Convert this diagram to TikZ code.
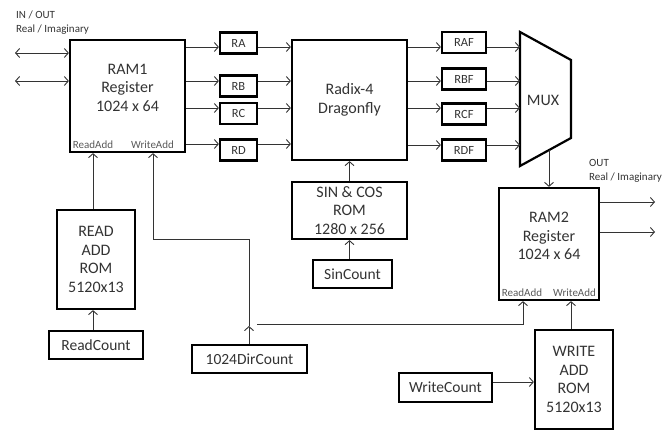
\documentclass[tikz,border=0pt]{standalone}
\usepackage{fontspec}
\setmainfont{Carlito}
\usetikzlibrary{arrows.meta}
\definecolor{txt}{HTML}{333333}
\definecolor{ln}{HTML}{333333}
\begin{document}
\begin{tikzpicture}[x=1pt,y=-1pt,
  box/.style={draw=black,line width=2.2pt,inner sep=0pt,text=txt,align=center},
  big/.style={font=\fontsize{16}{18.5}\selectfont},
  small/.style={font=\fontsize{12.5}{14}\selectfont},
  tiny/.style={font=\fontsize{11}{12}\selectfont,text=black!65},
  lbl/.style={font=\fontsize{11}{12}\selectfont,text=txt,anchor=west,inner sep=0pt},
  arr/.style={draw=ln,line width=0.9pt,-{Straight Barb[length=4pt,width=9pt,line width=0.9pt]}},
  darr/.style={draw=ln,line width=0.9pt,{Straight Barb[length=4pt,width=9pt,line width=0.9pt]}-{Straight Barb[length=4pt,width=9pt,line width=0.9pt]}},
  ln/.style={draw=ln,line width=0.9pt}]
\useasboundingbox (0,0) rectangle (663,430);

% RAM1
\node[box,minimum width=115pt,minimum height=112pt] (ram1) at (127.5,96) {};
\node[big,text=txt,align=center] (ram1t) at (127.5,87.5) {RAM1\\Register\\1024 x 64};
\node[tiny] (ram1r) at (93,145) {ReadAdd};
\node[tiny] (ram1w) at (152.5,145) {WriteAdd};

% registers
\node[box,small,minimum width=37pt,minimum height=21pt] (ra) at (238.5,43) {RA};
\node[box,small,minimum width=37pt,minimum height=21pt] (rb) at (238.5,86) {RB};
\node[box,small,minimum width=37pt,minimum height=21pt] (rc) at (238.5,113.5) {RC};
\node[box,small,minimum width=37pt,minimum height=21pt] (rd) at (238.5,150) {RD};

% Radix
\node[box,big,minimum width=115pt,minimum height=120pt] (radix) at (349.5,100) {Radix-4\\Dragonfly};

\node[box,small,minimum width=44pt,minimum height=21pt] (raf) at (464,42.5) {RAF};
\node[box,small,minimum width=44pt,minimum height=21pt] (rbf) at (464,79) {RBF};
\node[box,small,minimum width=44pt,minimum height=21pt] (rcf) at (464,114) {RCF};
\node[box,small,minimum width=44pt,minimum height=21pt] (rdf) at (464,150) {RDF};

% MUX
\coordinate (m1) at (520,32);
\coordinate (m2) at (571,60);
\coordinate (m3) at (571,138);
\coordinate (m4) at (520,166);
\draw[line width=2.2pt,line join=miter] (m1) -- (m2) -- (m3) -- (m4) -- cycle;
\node[big,text=txt] (mux) at (543,100) {MUX};
\coordinate (muxout) at (549,150);

% SIN COS
\node[box,big,minimum width=115pt,minimum height=57pt] (sincos) at (349.5,210.5) {SIN \& COS\\ROM\\1280 x 256};
\node[box,font=\fontsize{15.5}{17}\selectfont,minimum width=79pt,minimum height=28pt] (sincount) at (352.5,274) {SinCount};

% READ ROM
\node[box,big,minimum width=78pt,minimum height=99pt] (readrom) at (96,259.5) {READ\\ADD\\ROM\\5120x13};
\node[box,font=\fontsize{15.5}{17}\selectfont,minimum width=94pt,minimum height=28pt] (readcount) at (96,345) {ReadCount};
\node[box,font=\fontsize{15.5}{17}\selectfont,minimum width=115pt,minimum height=28pt] (dircount) at (249.5,359) {1024DirCount};

% RAM2
\node[box,minimum width=100pt,minimum height=112pt] (ram2) at (549,244) {};
\node[big,text=txt,align=center] (ram2t) at (549,236) {RAM2\\Register\\1024 x 64};
\node[tiny] (ram2r) at (522,293) {ReadAdd};
\node[tiny] (ram2w) at (574.5,293) {WriteAdd};

\node[box,big,minimum width=78pt,minimum height=99pt] (writerom) at (574,379.5) {WRITE\\ADD\\ROM\\5120x13};
\node[box,font=\fontsize{15.5}{17}\selectfont,minimum width=93pt,minimum height=29pt] (writecount) at (445.5,387.5) {WriteCount};

% labels
\node[lbl] (inout1) at (16,15) {IN / OUT};
\node[lbl] (inout2) at (16,30) {Real / Imaginary};
\node[lbl] (out1) at (589,163) {OUT};
\node[lbl] (out2) at (589,178) {Real / Imaginary};

% y levels
\coordinate (yin1) at (15,53);
\coordinate (yin2) at (15,81);
\coordinate (ya) at (0,47);
\coordinate (yb) at (0,81);
\coordinate (yc) at (0,108);
\coordinate (yd) at (0,144);
\coordinate (ydf) at (0,145);

% connectors
\draw[darr] (yin1) -- (ram1.west |- yin1);
\draw[darr] (yin2) -- (ram1.west |- yin2);

\draw[arr] (ram1.east |- ya) -- (ra.west |- ya);
\draw[arr] (ram1.east |- yb) -- (rb.west |- yb);
\draw[arr] (ram1.east |- yc) -- (rc.west |- yc);
\draw[arr] (ram1.east |- yd) -- (rd.west |- yd);

\draw[arr] (ra.east |- ya) -- (radix.west |- ya);
\draw[arr] (rb.east |- yb) -- (radix.west |- yb);
\draw[arr] (rc.east |- yc) -- (radix.west |- yc);
\draw[arr] (rd.east |- yd) -- (radix.west |- yd);

\draw[arr] (radix.east |- ya) -- (raf.west |- ya);
\draw[arr] (radix.east |- yb) -- (rbf.west |- yb);
\draw[arr] (radix.east |- yc) -- (rcf.west |- yc);
\draw[arr] (radix.east |- ydf) -- (rdf.west |- ydf);

\draw[arr] (raf.east |- ya) -- (m1 |- ya);
\draw[arr] (rbf.east |- yb) -- (m1 |- yb);
\draw[arr] (rcf.east |- yc) -- (m1 |- yc);
\draw[arr] (rdf.east |- ydf) -- (m1 |- ydf);

\draw[arr] (muxout) -- (ram2.north -| muxout);

\coordinate (o1) at (655,202);
\coordinate (o2) at (655,232);
\draw[arr] (ram2.east |- o1) -- (o1);
\draw[arr] (ram2.east |- o2) -- (o2);

\draw[arr] (sincount.north -| sincos) -- (sincos.south);
\draw[arr] (sincos.north) -- (radix.south -| sincos.north);

\coordinate (xr) at (93,0);
\draw[arr] (readrom.north -| xr) -- (ram1.south -| xr);
\draw[arr] (readcount.north -| xr) -- (readrom.south -| xr);

\coordinate (j1) at (249,326);
\coordinate (j2) at (249,239);
\coordinate (j3) at (153,239);
\draw[arr] (dircount.north -| j1) -- (j1);
\draw[arr] (j1) -- (j2) -- (j3) -- (ram1.south -| j3);
\coordinate (h1) at (257,324);
\coordinate (h2) at (523,324);
\draw[arr] (h1) -- (h2) -- (ram2.south -| h2);

\coordinate (xw) at (571,0);
\draw[arr] (writerom.north -| xw) -- (ram2.south -| xw);
\coordinate (yw) at (0,382);
\draw[arr] (writecount.east |- yw) -- (writerom.west |- yw);
\end{tikzpicture}
\end{document}
